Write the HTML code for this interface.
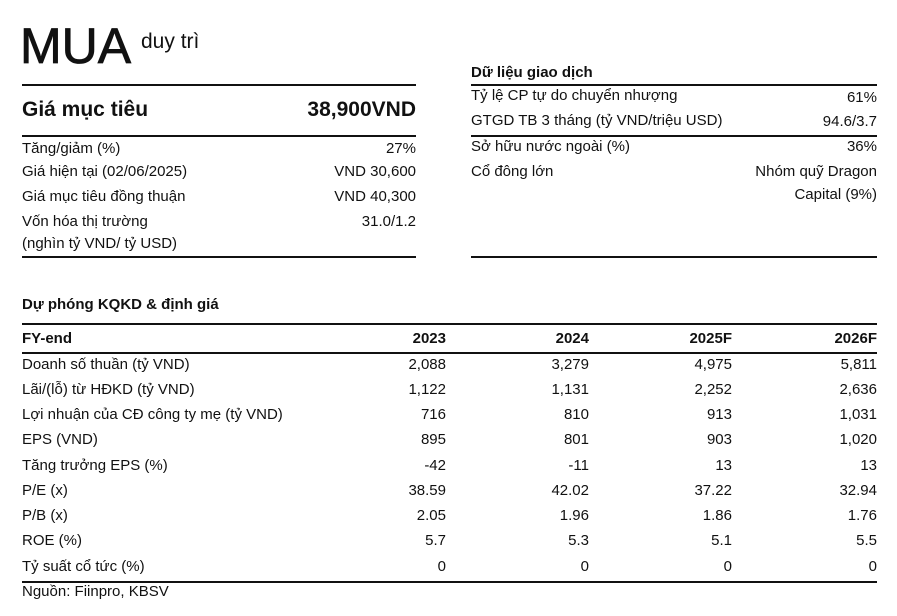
<!DOCTYPE html>
<html><head><meta charset="utf-8"><style>
body{margin:0;width:897px;height:616px;background:#fff;position:relative;overflow:hidden;font-family:"Liberation Sans",sans-serif;color:#111;}
.a{position:absolute;white-space:nowrap;font-size:15px;line-height:18px;}
.r{text-align:right;}
.b{font-weight:bold;}
.l{position:absolute;height:1.5px;background:#111;}
</style></head><body>
<div class="a" style="left:20px;top:17px;font-size:50px;line-height:58px;-webkit-text-stroke:0.8px #111;">MUA</div>
<div class="a" style="left:141px;top:30px;font-size:21px;line-height:24px;">duy trì</div>
<div class="l" style="left:22px;width:394px;top:84px"></div>
<div class="a b" style="left:22px;top:97px;font-size:21px;line-height:26px;">Giá mục tiêu</div>
<div class="a b r" style="right:481px;top:97px;font-size:21px;line-height:26px;">38,900VND</div>
<div class="l" style="left:22px;width:394px;top:135px"></div>
<div class="a" style="left:22px;top:140px">Tăng/giảm (%)</div><div class="a r" style="right:481px;top:140px">27%</div>
<div class="a" style="left:22px;top:163px">Giá hiện tại (02/06/2025)</div><div class="a r" style="right:481px;top:163px">VND 30,600</div>
<div class="a" style="left:22px;top:188px">Giá mục tiêu đồng thuận</div><div class="a r" style="right:481px;top:188px">VND 40,300</div>
<div class="a" style="left:22px;top:213px">Vốn hóa thị trường</div><div class="a r" style="right:481px;top:213px">31.0/1.2</div>
<div class="a" style="left:22px;top:235px">(nghìn tỷ VND/ tỷ USD)</div>
<div class="l" style="left:22px;width:394px;top:256px"></div>

<div class="a b" style="left:471px;top:64px">Dữ liệu giao dịch</div>
<div class="l" style="left:471px;width:406px;top:84px"></div>
<div class="a" style="left:471px;top:87px">Tỷ lệ CP tự do chuyển nhượng</div><div class="a r" style="right:20px;top:89px">61%</div>
<div class="a" style="left:471px;top:112px">GTGD TB 3 tháng (tỷ VND/triệu USD)</div><div class="a r" style="right:20px;top:113px">94.6/3.7</div>
<div class="l" style="left:471px;width:406px;top:135px"></div>
<div class="a" style="left:471px;top:138px">Sở hữu nước ngoài (%)</div><div class="a r" style="right:20px;top:138px">36%</div>
<div class="a" style="left:471px;top:163px">Cổ đông lớn</div><div class="a r" style="right:20px;top:163px">Nhóm quỹ Dragon</div>
<div class="a r" style="right:20px;top:186px">Capital (9%)</div>
<div class="l" style="left:471px;width:406px;top:256px"></div>

<div class="a b" style="left:22px;top:296px">Dự phóng KQKD &amp; định giá</div>
<div class="l" style="left:22px;width:855px;top:323px"></div>
<div class="a b" style="left:22px;top:330px">FY-end</div>
<div class="a b r" style="right:451px;top:330px">2023</div>
<div class="a b r" style="right:308px;top:330px">2024</div>
<div class="a b r" style="right:165px;top:330px">2025F</div>
<div class="a b r" style="right:20px;top:330px">2026F</div>
<div class="l" style="left:22px;width:855px;top:352px"></div>

<div class="a" style="left:22px;top:356px">Doanh số thuần (tỷ VND)</div><div class="a r" style="right:451px;top:356px">2,088</div><div class="a r" style="right:308px;top:356px">3,279</div><div class="a r" style="right:165px;top:356px">4,975</div><div class="a r" style="right:20px;top:356px">5,811</div>
<div class="a" style="left:22px;top:381px">Lãi/(lỗ) từ HĐKD (tỷ VND)</div><div class="a r" style="right:451px;top:381px">1,122</div><div class="a r" style="right:308px;top:381px">1,131</div><div class="a r" style="right:165px;top:381px">2,252</div><div class="a r" style="right:20px;top:381px">2,636</div>
<div class="a" style="left:22px;top:406px">Lợi nhuận của CĐ công ty mẹ  (tỷ VND)</div><div class="a r" style="right:451px;top:406px">716</div><div class="a r" style="right:308px;top:406px">810</div><div class="a r" style="right:165px;top:406px">913</div><div class="a r" style="right:20px;top:406px">1,031</div>
<div class="a" style="left:22px;top:431px">EPS (VND)</div><div class="a r" style="right:451px;top:431px">895</div><div class="a r" style="right:308px;top:431px">801</div><div class="a r" style="right:165px;top:431px">903</div><div class="a r" style="right:20px;top:431px">1,020</div>
<div class="a" style="left:22px;top:457px">Tăng trưởng EPS (%)</div><div class="a r" style="right:451px;top:457px">-42</div><div class="a r" style="right:308px;top:457px">-11</div><div class="a r" style="right:165px;top:457px">13</div><div class="a r" style="right:20px;top:457px">13</div>
<div class="a" style="left:22px;top:482px">P/E (x)</div><div class="a r" style="right:451px;top:482px">38.59</div><div class="a r" style="right:308px;top:482px">42.02</div><div class="a r" style="right:165px;top:482px">37.22</div><div class="a r" style="right:20px;top:482px">32.94</div>
<div class="a" style="left:22px;top:507px">P/B (x)</div><div class="a r" style="right:451px;top:507px">2.05</div><div class="a r" style="right:308px;top:507px">1.96</div><div class="a r" style="right:165px;top:507px">1.86</div><div class="a r" style="right:20px;top:507px">1.76</div>
<div class="a" style="left:22px;top:532px">ROE (%)</div><div class="a r" style="right:451px;top:532px">5.7</div><div class="a r" style="right:308px;top:532px">5.3</div><div class="a r" style="right:165px;top:532px">5.1</div><div class="a r" style="right:20px;top:532px">5.5</div>
<div class="a" style="left:22px;top:558px">Tỷ suất cổ tức (%)</div><div class="a r" style="right:451px;top:558px">0</div><div class="a r" style="right:308px;top:558px">0</div><div class="a r" style="right:165px;top:558px">0</div><div class="a r" style="right:20px;top:558px">0</div>
<div class="l" style="left:22px;width:855px;top:581px"></div>
<div class="a" style="left:22px;top:583px">Nguồn: Fiinpro, KBSV</div>
</body></html>
